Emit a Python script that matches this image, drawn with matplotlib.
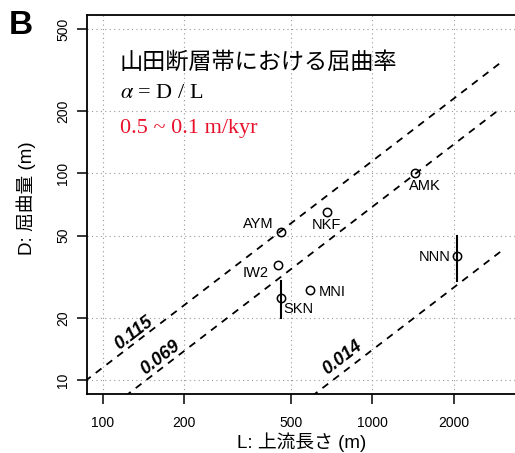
import matplotlib
matplotlib.use("Agg")
import matplotlib.pyplot as plt
import numpy as np

plt.rcParams['font.family'] = ['Liberation Sans', 'Noto Sans CJK JP', 'DejaVu Sans']
plt.rcParams['mathtext.fontset'] = 'stix'

# Data
sites = ["AMK", "NKF", "AYM", "IW2", "MNI", "SKN", "NNN"]
L = [1440, 680, 456, 448, 584, 456, 2066]
D = [100, 65.4, 52.3, 36.1, 27.4, 25.0, 40.0]
D_lo = [None, None, None, None, None, 20.0, 30.0]
D_hi = [None, None, None, None, None, 30.3, 50.0]
alphas = [0.115, 0.069, 0.014]
alpha_labels = ["0.115", "0.069", "0.014"]
alpha_label_pos = [(130, 16.9), (164, 12.8), (774, 12.8)]
xticks = [100, 200, 500, 1000, 2000]
yticks = [10, 20, 50, 100, 200, 500]

W, H = 515, 453
fig = plt.figure(figsize=(W/100, H/100), dpi=100)
ax = fig.add_axes([87/W, (H-394)/H, (517-87)/W, (394-15)/H])
ax.set_xscale('log'); ax.set_yscale('log')
lx = np.log10([100, 3000]); dx = 0.04*(lx[1]-lx[0])
ly = np.log10([10, 500]); dy = 0.04*(ly[1]-ly[0])
ax.set_xlim(10**(lx[0]-dx), 10**(lx[1]+dx))
ax.set_ylim(10**(ly[0]-dy), 10**(ly[1]+dy))

for t in xticks:
    ax.axvline(t, color='#999999', ls=(0, (1, 3)), lw=0.8, zorder=0)
for t in yticks:
    ax.axhline(t, color='#999999', ls=(0, (1, 3)), lw=0.8, zorder=0)

Lline = np.array([10, 3000])
for a in alphas:
    ax.plot(Lline, a*Lline, color='black', ls=(0, (4, 3.5)), lw=1.3)

dec_x = (517-87)/(lx[1]-lx[0]+2*dx)
dec_y = (394-15)/(ly[1]-ly[0]+2*dy)
ang = np.degrees(np.arctan(dec_y/dec_x))
for lab, (xp, yp) in zip(alpha_labels, alpha_label_pos):
    ax.text(xp, yp, lab, rotation=ang, ha='center', va='center',
            fontsize=13, fontweight='bold', fontstyle='italic', rotation_mode='anchor')

for i in range(len(sites)):
    if D_lo[i] is not None:
        ax.plot([L[i], L[i]], [D_lo[i], D_hi[i]], color='black', lw=1.5)
ax.plot(L, D, 'o', mfc='none', mec='black', ms=6, mew=1.1)

# offsets in pixels: (dx, dy, ha)
lab_off = {"AMK": (10, -13, 'center'), "NKF": (-1, -13, 'center'), "AYM": (-7, 8, 'right'),
           "IW2": (-10, -8, 'right'), "MNI": (9, -2, 'left'), "SKN": (3, -11, 'left'),
           "NNN": (-7, -1, 'right')}
for s, x, y in zip(sites, L, D):
    ox, oy, ha = lab_off[s]
    ax.annotate(s, (x, y), xytext=(ox, oy), textcoords='offset pixels', ha=ha, va='center', fontsize=10.5)

ax.set_xticks(xticks); ax.set_xticklabels([str(t) for t in xticks])
ax.set_yticks(yticks); ax.set_yticklabels([str(t) for t in yticks], rotation=90, va='center')
ax.minorticks_off()
ax.tick_params(direction='out', length=7, width=1.1, labelsize=10, pad=5)
ax.tick_params(axis='x', pad=9)
for sp in ax.spines.values():
    sp.set_linewidth(1.3)

ax.set_xlabel("L: 上流長さ (m)", fontsize=13.5)
ax.xaxis.set_label_coords(0.5, -(442-394)/(394-15))
ax.xaxis.label.set_va('center')
ax.set_ylabel("D: 屈曲量 (m)", fontsize=13.5)
ax.yaxis.set_label_coords((26-87)/(517-87), (394-198)/(394-15))
ax.yaxis.label.set_va('center')

fig.text(120/W, 1-62/H, "山田断層帯における屈曲率", fontsize=16.7, va='center', ha='left')
fig.text(120/W, 1-93/H, r"$\alpha$ = D / L", fontsize=16, va='center', ha='left', family='Liberation Serif')
fig.text(120/W, 1-129/H, "0.5 ~ 0.1 m/kyr", fontsize=16, va='center', ha='left', family='Liberation Serif', color='#e8102a')
fig.text(9/W, 1-26/H, "B", fontsize=24, fontweight='bold', va='center', ha='left')

fig.savefig("out.png", dpi=100)
